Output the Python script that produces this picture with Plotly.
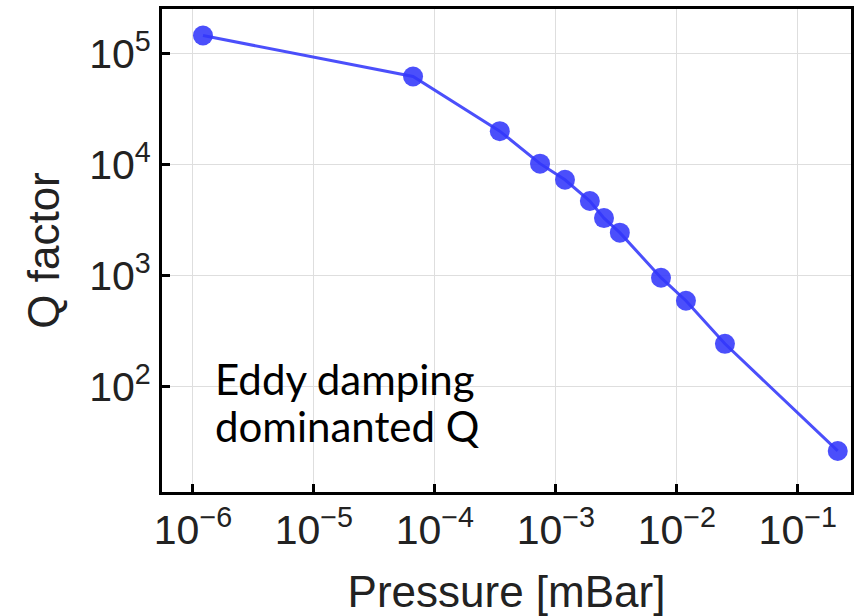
import plotly.graph_objects as go

pressure_mbar = [1.21e-6, 6.6e-5, 3.44e-4, 7.4e-4, 1.19e-3, 1.91e-3, 2.5e-3, 3.38e-3, 7.4e-3, 1.19e-2, 2.5e-2, 0.214]
q_factor = [1.45e5, 6.2e4, 2.0e4, 1.02e4, 7.3e3, 4.7e3, 3.3e3, 2.44e3, 960, 596, 244, 26.5]

x_tick_vals = [1e-6, 1e-5, 1e-4, 1e-3, 1e-2, 1e-1]
x_tick_text = ["10<sup>−6</sup>", "10<sup>−5</sup>", "10<sup>−4</sup>", "10<sup>−3</sup>", "10<sup>−2</sup>", "10<sup>−1</sup>"]
y_tick_vals = [1e2, 1e3, 1e4, 1e5]
y_tick_text = ["10<sup>2</sup>", "10<sup>3</sup>", "10<sup>4</sup>", "10<sup>5</sup>"]
note_lines = ["Eddy damping", "dominanted Q"]

blue = "rgba(50,55,250,0.88)"
sans = "Liberation Sans, Arial, sans-serif"

fig = go.Figure()
fig.add_trace(go.Scatter(
    x=pressure_mbar, y=q_factor, mode="lines+markers",
    line=dict(color=blue, width=3),
    marker=dict(color=blue, size=20),
    showlegend=False,
))

tick_font = dict(family=sans, size=41, color="#222")
title_font = dict(family=sans, size=44, color="#222")

fig.update_xaxes(
    type="log", range=[-6.256, -0.56],
    tickvals=x_tick_vals, ticktext=x_tick_text,
    ticks="inside", ticklen=8, tickwidth=3, tickcolor="black",
    showline=True, linewidth=3, linecolor="black", mirror=True,
    showgrid=True, gridcolor="#dedede", gridwidth=1,
    tickfont=tick_font, zeroline=False, automargin=False,
    title=dict(text="Pressure [mBar]", font=title_font, standoff=24),
)
fig.update_yaxes(
    type="log", range=[1.054, 5.40],
    tickvals=y_tick_vals, ticktext=y_tick_text,
    ticks="inside", ticklen=8, tickwidth=3, tickcolor="black",
    showline=True, linewidth=3, linecolor="black", mirror=True,
    showgrid=True, gridcolor="#dedede", gridwidth=1,
    tickfont=tick_font, zeroline=False, automargin=False,
    title=dict(text="Q factor", font=title_font, standoff=16),
)

for line, ypos in zip(note_lines, [0.2335, 0.136]):
    fig.add_annotation(
        xref="paper", yref="paper", x=0.0739, y=ypos, xanchor="left", yanchor="middle",
        text=line, showarrow=False, align="left",
        font=dict(family="Lato, Carlito, Calibri, sans-serif", size=42, color="black"),
    )

fig.update_layout(
    width=861, height=616,
    margin=dict(l=162, r=10, t=9, b=124),
    plot_bgcolor="white", paper_bgcolor="white",
)

fig.write_html(
    "out.html",
    config={"displayModeBar": False},
    post_script="document.body.style.margin='0';document.body.style.overflow='hidden';",
)
